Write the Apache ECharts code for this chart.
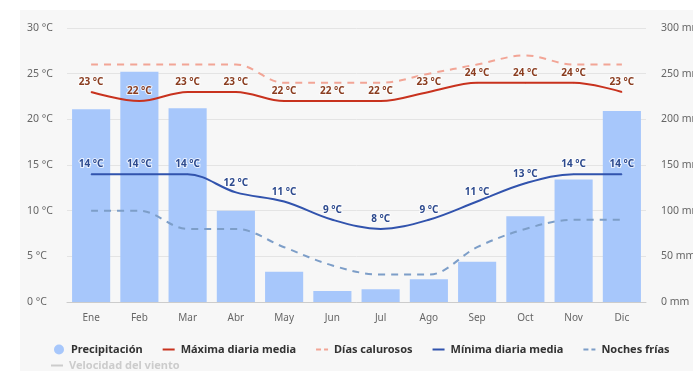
<!DOCTYPE html>
<html>
<head>
<meta charset="utf-8">
<script src="https://cdn.jsdelivr.net/npm/echarts@6/dist/echarts.min.js"></script>
<style>
html,body{margin:0;padding:0;background:#fff;}
#c{width:693px;height:371px;}
</style>
</head>
<body>
<div id="c"></div>
<script>
const months = ['Ene','Feb','Mar','Abr','May','Jun','Jul','Ago','Sep','Oct','Nov','Dic'];
const precipitacion = [211, 252, 212, 100, 33, 12, 14, 25, 44, 94, 134, 209];
const maximaDiaria = [23, 22, 23, 23, 22, 22, 22, 23, 24, 24, 24, 23];
const diasCalurosos = [26, 26, 26, 26, 24, 24, 24, 25, 26, 27, 26, 26];
const minimaDiaria = [14, 14, 14, 12, 11, 9, 8, 9, 11, 13, 14, 14];
const nochesFrias = [10, 10, 8, 8, 6, 4, 3, 3, 6, 8, 9, 9];
const velocidadViento = [];
const tempTicks = { min: 0, max: 30, interval: 5 };
const mmTicks = { min: 0, max: 300, interval: 50 };

const FONT = 'Noto Sans';
const chart = echarts.init(document.getElementById('c'), null, { renderer: 'canvas' });

function lbl(color) {
  return {
    show: true,
    position: 'top',
    distance: 4,
    formatter: '{c} °C',
    color: color,
    fontFamily: FONT,
    fontSize: 10,
    fontWeight: 'bold',
    textBorderColor: 'rgba(255,255,255,0.75)',
    textBorderWidth: 2
  };
}

const SOLID_ICON = 'path://M0,0 M14,10 M1,4 L13,4 L13,6 L1,6 Z';
const DASH_ICON = 'path://M0,0 M14,10 M1,4 L6,4 L6,6 L1,6 Z M9,4 L13,4 L13,6 L9,6 Z';
const legendText = { fontSize: 11, fontWeight: 'bold', color: '#333', fontFamily: FONT };

chart.setOption({
  backgroundColor: '#ffffff',
  animation: false,
  textStyle: { fontFamily: FONT },
  graphic: [{
    type: 'rect',
    z: -10,
    silent: true,
    shape: { x: 20, y: 10, width: 673, height: 361 },
    style: { fill: '#f7f7f7' }
  }],
  grid: { left: 67, right: 47, top: 28, bottom: 69, outerBoundsMode: 'none', containLabel: false },
  legend: [{
    left: 54,
    top: 344,
    itemWidth: 14,
    itemHeight: 10,
    itemGap: 19,
    padding: 0,
    textStyle: legendText,
    inactiveColor: '#cccccc',
    data: [
      { name: 'Precipitación', icon: 'circle' },
      { name: 'Máxima diaria media', icon: SOLID_ICON },
      { name: 'Días calurosos', icon: DASH_ICON },
      { name: 'Mínima diaria media', icon: SOLID_ICON },
      { name: 'Noches frías', icon: DASH_ICON }
    ]
  }, {
    left: 50,
    top: 360,
    itemWidth: 14,
    itemHeight: 10,
    padding: 0,
    textStyle: legendText,
    inactiveColor: '#cccccc',
    selected: { 'Velocidad del viento': false },
    data: [{ name: 'Velocidad del viento', icon: SOLID_ICON }]
  }],
  xAxis: {
    type: 'category',
    data: months,
    axisLine: { lineStyle: { color: '#cccccc' } },
    axisTick: { alignWithLabel: true, length: 5, lineStyle: { color: '#cccccc' } },
    axisLabel: { color: '#666', fontSize: 10, margin: 11, fontFamily: FONT }
  },
  yAxis: [{
    type: 'value',
    min: tempTicks.min, max: tempTicks.max, interval: tempTicks.interval,
    axisLabel: { formatter: '{value} °C', color: '#666', fontSize: 10.5, align: 'left', margin: 40, fontFamily: FONT },
    splitLine: { lineStyle: { color: '#e4e4e4' } },
    axisLine: { show: false }, axisTick: { show: false }
  }, {
    type: 'value',
    min: mmTicks.min, max: mmTicks.max, interval: mmTicks.interval,
    axisLabel: { formatter: '{value} mm', color: '#666', fontSize: 10.5, align: 'left', margin: 15, fontFamily: FONT },
    splitLine: { show: false },
    axisLine: { show: false }, axisTick: { show: false }
  }],
  series: [{
    name: 'Precipitación',
    type: 'bar',
    yAxisIndex: 1,
    data: precipitacion,
    barCategoryGap: '21%',
    itemStyle: { color: '#a7c7fb' },
    z: 1
  }, {
    name: 'Máxima diaria media',
    type: 'line',
    data: maximaDiaria,
    smooth: 0.35,
    symbol: 'circle',
    symbolSize: 1,
    lineStyle: { color: '#c8321e', width: 2 },
    itemStyle: { color: '#c8321e' },
    label: lbl('#8a3d20'),
    z: 4
  }, {
    name: 'Días calurosos',
    type: 'line',
    data: diasCalurosos,
    smooth: 0.35,
    symbol: 'none',
    lineStyle: { color: '#f2a596', width: 2, type: [7, 6] },
    itemStyle: { color: '#f2a596' },
    z: 3
  }, {
    name: 'Mínima diaria media',
    type: 'line',
    data: minimaDiaria,
    smooth: 0.35,
    symbol: 'circle',
    symbolSize: 1,
    lineStyle: { color: '#3153ad', width: 2 },
    itemStyle: { color: '#3153ad' },
    label: lbl('#2d4a8e'),
    z: 4
  }, {
    name: 'Noches frías',
    type: 'line',
    data: nochesFrias,
    smooth: 0.35,
    symbol: 'none',
    lineStyle: { color: '#7d9ec8', width: 2, type: [7, 6] },
    itemStyle: { color: '#7d9ec8' },
    z: 3
  }, {
    name: 'Velocidad del viento',
    type: 'line',
    data: velocidadViento,
    symbol: 'none',
    lineStyle: { color: '#999', width: 2 },
    itemStyle: { color: '#999' }
  }]
});
</script>
</body>
</html>
